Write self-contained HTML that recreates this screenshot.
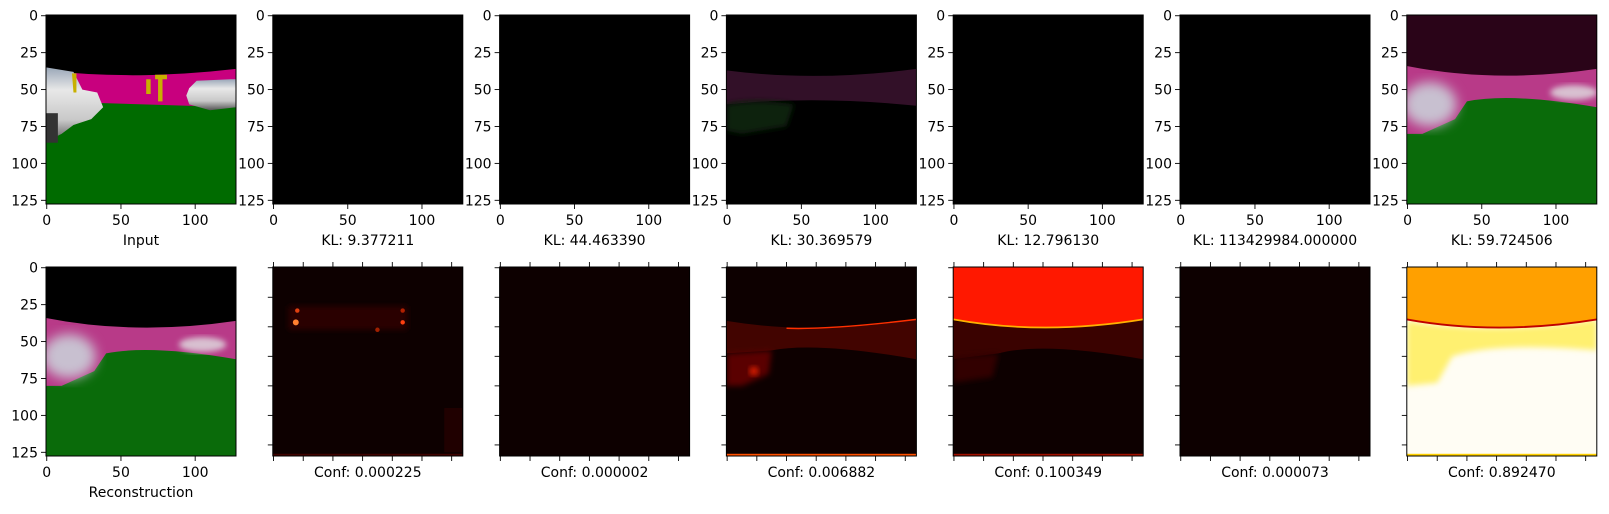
<!DOCTYPE html>
<html><head><meta charset="utf-8">
<style>
html,body{margin:0;padding:0;background:#fff;}
svg text{font-family:"DejaVu Sans","Liberation Sans",sans-serif;fill:#000;}
</style></head>
<body>
<svg id="fig" width="1609" height="509" viewBox="0 0 1609 509" xmlns="http://www.w3.org/2000/svg">
<defs>
<filter id="blur1" x="-20%" y="-20%" width="140%" height="140%"><feGaussianBlur stdDeviation="2"/></filter>
<filter id="blur2" x="-20%" y="-20%" width="140%" height="140%"><feGaussianBlur stdDeviation="4"/></filter>
<linearGradient id="carL" x1="0" y1="0" x2="0" y2="1"><stop offset="0" stop-color="#9aa7b8"/><stop offset="0.3" stop-color="#e8e8e8"/><stop offset="0.7" stop-color="#c8c8c8"/><stop offset="1" stop-color="#555"/></linearGradient>
</defs>

<svg x="46" y="15" width="190" height="189" viewBox="-0.5 -0.5 128 128" preserveAspectRatio="none">
<rect x="-0.5" y="-0.5" width="128" height="128" fill="#006b00"/>
<path d="M-0.5,36 L40,38 Q60,42 80,39 L127.5,36 V62 L-0.5,58 Z" fill="#c8007e"/>
<path d="M-0.5,37 Q60,44 127.5,36 V-0.5 H-0.5Z" fill="#000"/>
<path d="M-0.5,35 L18,38 L24,50 L34,52 L38,62 L30,70 L18,74 L10,80 L2,84 L-0.5,86 Z" fill="url(#carL)"/>
<rect x="-0.5" y="66" width="8" height="20" fill="#333"/>
<path d="M96,49 L101,44 L124,43 L127.5,43 V62 L110,64 L96,60 L94,54 Z" fill="url(#carL)"/>
<path d="M73,40 h8 v3 h-3 v15 h-3 v-15 h-2Z M67,43 h3 v10 h-3Z M17,39 h3 v13 h-2Z" fill="#c8b000"/>
</svg>

<rect x="272.8" y="15" width="190" height="189" fill="#000"/>
<rect x="499.6" y="15" width="190" height="189" fill="#000"/>
<rect x="953.2" y="15" width="190" height="189" fill="#000"/>
<rect x="1180" y="15" width="190" height="189" fill="#000"/>

<svg x="726.4" y="15" width="190" height="189" viewBox="-0.5 -0.5 128 128" preserveAspectRatio="none">
<rect x="-0.5" y="-0.5" width="128" height="128" fill="#000"/>
<path d="M-0.5,37 Q60,45 127.5,36 V61 Q60,54 -0.5,60 Z" fill="#321028"/>
<path d="M-0.5,60 Q20,56 45,60 L40,75 L10,80 L-0.5,78 Z" fill="#0a220a" filter="url(#blur1)"/>
</svg>

<svg x="1406.8" y="15" width="190" height="189" viewBox="-0.5 -0.5 128 128" preserveAspectRatio="none">
<rect x="-0.5" y="-0.5" width="128" height="128" fill="#0a6b0a"/>
<path d="M-0.5,30 H127.5 V62 Q70,52 40,58 L32,70 L10,80 L-0.5,80 Z" fill="#b83a88"/>
<ellipse cx="15" cy="60" rx="18" ry="15" fill="#c8c0d0" filter="url(#blur2)"/>
<ellipse cx="112" cy="52" rx="16" ry="5" fill="#d8c0d0" filter="url(#blur1)"/>
<path d="M-0.5,-0.5 H127.5 V36 Q60,46 -0.5,34 Z" fill="#2a0418"/>
</svg>

<svg x="46" y="267" width="190" height="189" viewBox="-0.5 -0.5 128 128" preserveAspectRatio="none">
<rect x="-0.5" y="-0.5" width="128" height="128" fill="#0a6b0a"/>
<path d="M-0.5,30 H127.5 V62 Q70,52 40,58 L32,70 L10,80 L-0.5,80 Z" fill="#b83a88"/>
<ellipse cx="15" cy="60" rx="18" ry="15" fill="#c8c0d0" filter="url(#blur2)"/>
<ellipse cx="105" cy="52" rx="16" ry="5" fill="#d8c0d0" filter="url(#blur1)"/>
<path d="M-0.5,-0.5 H127.5 V36 Q60,46 -0.5,34 Z" fill="#000"/>
</svg>

<svg x="272.8" y="267" width="190" height="189" viewBox="-0.5 -0.5 128 128" preserveAspectRatio="none">
<rect x="-0.5" y="-0.5" width="128" height="128" fill="#0d0000"/>
<rect x="10" y="26" width="80" height="16" fill="#2a0200" filter="url(#blur1)"/>
<circle cx="15" cy="37" r="2" fill="#ff8030"/>
<circle cx="16" cy="29" r="1.5" fill="#e04010"/>
<circle cx="87" cy="37" r="1.5" fill="#ff4010"/>
<circle cx="87" cy="29" r="1.5" fill="#b02000"/>
<circle cx="70" cy="42" r="1.5" fill="#a02000"/>
<rect x="115" y="95" width="12" height="30" fill="#200000"/>
<rect x="-0.5" y="126" width="128" height="1.5" fill="#400200"/>
</svg>
<rect x="499.6" y="267" width="190" height="189" fill="#0d0000"/>
<rect x="1180" y="267" width="190" height="189" fill="#0d0000"/>

<svg x="726.4" y="267" width="190" height="189" viewBox="-0.5 -0.5 128 128" preserveAspectRatio="none">
<rect x="-0.5" y="-0.5" width="128" height="128" fill="#0d0000"/>
<path d="M-0.5,36 Q60,46 127.5,35 V62 Q60,50 30,56 L-0.5,58 Z" fill="#420400"/>
<path d="M-0.5,58 L30,56 L28,72 L10,80 L-0.5,80 Z" fill="#5a0600" filter="url(#blur1)"/>
<circle cx="18" cy="70" r="3" fill="#e02000" filter="url(#blur1)"/>
<path d="M40,41 Q70,42 127.5,35" stroke="#ff3000" stroke-width="1" fill="none"/>
<rect x="-0.5" y="126" width="128" height="1.5" fill="#ff5000"/>
</svg>

<svg x="953.2" y="267" width="190" height="189" viewBox="-0.5 -0.5 128 128" preserveAspectRatio="none">
<rect x="-0.5" y="-0.5" width="128" height="128" fill="#0d0000"/>
<path d="M-0.5,36 Q60,46 127.5,35 V62 Q60,50 30,58 L-0.5,62 Z" fill="#3a0200"/>
<path d="M-0.5,60 L30,58 L26,74 L-0.5,78 Z" fill="#300200" filter="url(#blur1)"/>
<path d="M-0.5,-0.5 H127.5 V35 Q60,46 -0.5,35 Z" fill="#ff1800"/>
<path d="M-0.5,35 Q60,46 127.5,35" stroke="#ffb000" stroke-width="1.2" fill="none"/>
<rect x="-0.5" y="126" width="128" height="1.5" fill="#a01000"/>
</svg>

<svg x="1406.8" y="267" width="190" height="189" viewBox="-0.5 -0.5 128 128" preserveAspectRatio="none">
<rect x="-0.5" y="-0.5" width="128" height="128" fill="#fffdf4"/>
<path d="M-0.5,36 Q60,46 127.5,35 V56 Q60,50 30,60 L20,78 L-0.5,80 Z" fill="#fff070" filter="url(#blur1)"/>
<path d="M-0.5,-0.5 H127.5 V35 Q60,46 -0.5,35 Z" fill="#ffa000"/>
<path d="M-0.5,35 Q60,46 127.5,35" stroke="#c00000" stroke-width="1.3" fill="none"/>
<rect x="-0.5" y="126" width="128" height="1.5" fill="#ffd000"/>
</svg>

<g id="axes"></g>
</svg>
<script>
const topLabels = ["Input","KL: 9.377211","KL: 44.463390","KL: 30.369579","KL: 12.796130","KL: 113429984.000000","KL: 59.724506"];
const botLabels = ["Reconstruction","Conf: 0.000225","Conf: 0.000002","Conf: 0.006882","Conf: 0.100349","Conf: 0.000073","Conf: 0.892470"];
const labelTicks = [0,25,50,75,100,125];
const xLabelTicks = [0,50,100];
const plainTicks = [0,20,40,60,80,100,120];
const NS = "http://www.w3.org/2000/svg";
const g = document.getElementById('axes');
const W = 190, H = 189, left0 = 46, step = 226.8, topY = 15, botY = 267;
function sx(L, v){ return L + (v + 0.5) / 128 * W; }
function sy(T, v){ return T + (v + 0.5) / 128 * H; }
function mk(tag, attrs){ const e = document.createElementNS(NS, tag); for (const k in attrs) e.setAttribute(k, attrs[k]); g.appendChild(e); return e; }
function tick(x1,y1,x2,y2){
  const t = mk('line',{x1:x1,y1:y1,x2:x2,y2:y2,stroke:'#000','stroke-width':0.9});
  
  
}
function txt(x,y,s,anchor){
  const t = mk('text',{x:x,y:y,'font-size':14,'text-anchor':anchor});
  t.textContent = s;
  
  
  return t;
}
for (let r = 0; r < 2; r++) {
  const T = r === 0 ? topY : botY;
  for (let i = 0; i < 7; i++) {
    const L = left0 + step * i;
    const frame = mk('rect',{x:L,y:T,width:W,height:H,fill:'none',stroke:'#000','stroke-width':1});
    
    
    const labeled = (r === 0 || i === 0);
    if (labeled) {
      labelTicks.forEach(v => { const y = sy(T, v); tick(L, y, L - 5, y); txt(L - 8, y + 5, String(v), 'end'); });
      xLabelTicks.forEach(v => { const x = sx(L, v); tick(x, T + H, x, T + H + 5); txt(x, T + H + 21, String(v), 'middle'); });
      const lab = txt(L + W / 2, T + H + 41, r === 0 ? topLabels[i] : botLabels[i], 'middle');
      
    } else {
      plainTicks.forEach(v => { const y = sy(T, v); tick(L, y, L - 5, y); });
      plainTicks.forEach(v => { const x = sx(L, v); tick(x, T + H, x, T + H + 5); tick(x, T, x, T - 5); });
      const lab = txt(L + W / 2, T + H + 21, botLabels[i], 'middle');
      
    }
  }
}
</script>
</body></html>
